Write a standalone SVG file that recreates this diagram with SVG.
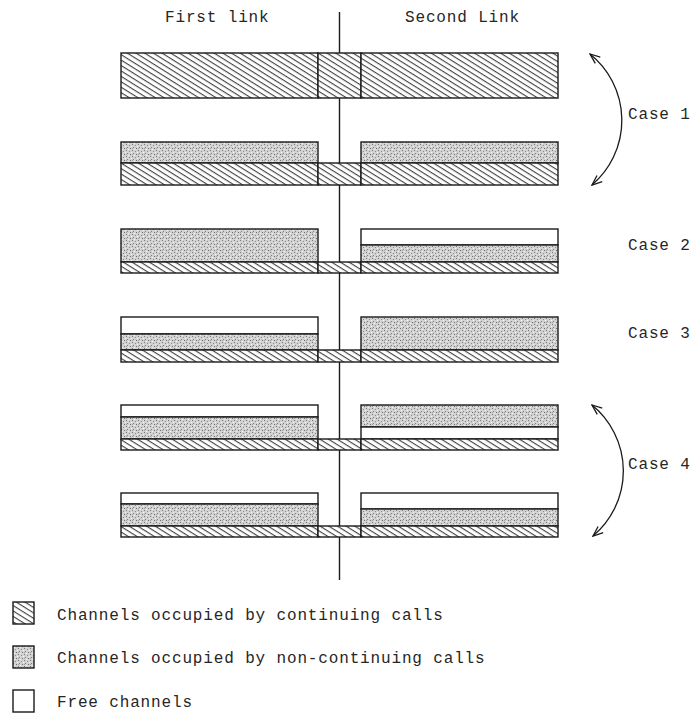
<svg xmlns="http://www.w3.org/2000/svg" width="692" height="713" viewBox="0 0 692 713">
<style>
text{font-family:"Liberation Mono","DejaVu Sans Mono",monospace;font-size:16px;fill:#262626;letter-spacing:0.85px}
.b{stroke:#1a1a1a;stroke-width:1.4}
.h{fill:url(#hatch)}
.g{fill:url(#dots)}
.w{fill:#fff}
.arc{fill:none;stroke:#1a1a1a;stroke-width:1.3;marker-start:url(#ah);marker-end:url(#ah)}
</style>
<defs>
<pattern id="hatch" width="8" height="4.6" patternUnits="userSpaceOnUse" patternTransform="rotate(32)">
<rect width="8" height="4.6" fill="#fff"/>
<line x1="0" y1="0.6" x2="8" y2="0.6" stroke="#2a2a2a" stroke-width="1"/>
</pattern>
<pattern id="dots" width="6" height="6" patternUnits="userSpaceOnUse">
<rect width="6" height="6" fill="#d2d2d2"/>
<rect x="0" y="0" width="1" height="1" fill="#777"/>
<rect x="3" y="1" width="1" height="1" fill="#8a8a8a"/>
<rect x="1" y="3" width="1" height="1" fill="#808080"/>
<rect x="4" y="4" width="1" height="1" fill="#707070"/>
<rect x="5" y="2" width="1" height="1" fill="#f4f4f4"/>
<rect x="2" y="5" width="1" height="1" fill="#f4f4f4"/>
<rect x="0" y="4" width="1" height="1" fill="#a0a0a0"/>
</pattern>
<marker id="ah" viewBox="0 0 12 10" refX="11" refY="5" markerWidth="12" markerHeight="10" markerUnits="userSpaceOnUse" orient="auto-start-reverse">
<path d="M1,1 L11,5 L1,9" fill="none" stroke="#1a1a1a" stroke-width="1.3"/>
</marker>
</defs>
<rect width="692" height="713" fill="#fff"/>

<g id="headers">
<text x="165" y="22">First link</text>
<text x="405" y="22">Second Link</text>
</g>

<line id="divider" x1="339.5" y1="12" x2="339.5" y2="580" stroke="#1a1a1a" stroke-width="1.4"/>

<g id="row1">
<rect class="b h" x="121" y="53" width="197" height="45"/>
<rect class="b h" x="318" y="53" width="43" height="45"/>
<rect class="b h" x="361" y="53" width="197" height="45"/>
</g>

<g id="row2">
<rect class="b g" x="121" y="142" width="197" height="21"/>
<rect class="b h" x="121" y="163" width="197" height="22"/>
<rect class="b h" x="318" y="163" width="43" height="22"/>
<rect class="b g" x="361" y="142" width="197" height="21"/>
<rect class="b h" x="361" y="163" width="197" height="22"/>
</g>

<g id="row3">
<rect class="b g" x="121" y="229" width="197" height="33"/>
<rect class="b h" x="121" y="262" width="197" height="11"/>
<rect class="b h" x="318" y="262" width="43" height="11"/>
<rect class="b w" x="361" y="229" width="197" height="16"/>
<rect class="b g" x="361" y="245" width="197" height="17"/>
<rect class="b h" x="361" y="262" width="197" height="11"/>
</g>

<g id="row4">
<rect class="b w" x="121" y="317" width="197" height="17"/>
<rect class="b g" x="121" y="334" width="197" height="16"/>
<rect class="b h" x="121" y="350" width="197" height="12"/>
<rect class="b h" x="318" y="350" width="43" height="12"/>
<rect class="b g" x="361" y="317" width="197" height="33"/>
<rect class="b h" x="361" y="350" width="197" height="12"/>
</g>

<g id="row5">
<rect class="b w" x="121" y="405" width="197" height="12"/>
<rect class="b g" x="121" y="417" width="197" height="22"/>
<rect class="b h" x="121" y="439" width="197" height="11"/>
<rect class="b h" x="318" y="439" width="43" height="11"/>
<rect class="b g" x="361" y="405" width="197" height="22"/>
<rect class="b w" x="361" y="427" width="197" height="12"/>
<rect class="b h" x="361" y="439" width="197" height="11"/>
</g>

<g id="row6">
<rect class="b w" x="121" y="493" width="197" height="11"/>
<rect class="b g" x="121" y="504" width="197" height="22"/>
<rect class="b h" x="121" y="526" width="197" height="11"/>
<rect class="b h" x="318" y="526" width="43" height="11"/>
<rect class="b w" x="361" y="493" width="197" height="16"/>
<rect class="b g" x="361" y="509" width="197" height="17"/>
<rect class="b h" x="361" y="526" width="197" height="11"/>
</g>

<g id="connectors">
<path class="arc" d="M590,54 A85,85 0 0 1 592,185"/>
<path class="arc" d="M592,405 A85,85 0 0 1 593,536"/>
</g>

<g id="case-labels">
<text x="628" y="119">Case 1</text>
<text x="628" y="250">Case 2</text>
<text x="628" y="338">Case 3</text>
<text x="628" y="469">Case 4</text>
</g>

<g id="legend-continuing">
<rect class="b h" x="13" y="602" width="21" height="22"/>
<text x="57" y="620">Channels occupied by continuing calls</text>
</g>
<g id="legend-noncontinuing">
<rect class="b g" x="13" y="646" width="21" height="22"/>
<text x="57" y="663">Channels occupied by non-continuing calls</text>
</g>
<g id="legend-free">
<rect class="b w" x="13" y="690" width="21" height="22"/>
<text x="57" y="707">Free channels</text>
</g>
</svg>
